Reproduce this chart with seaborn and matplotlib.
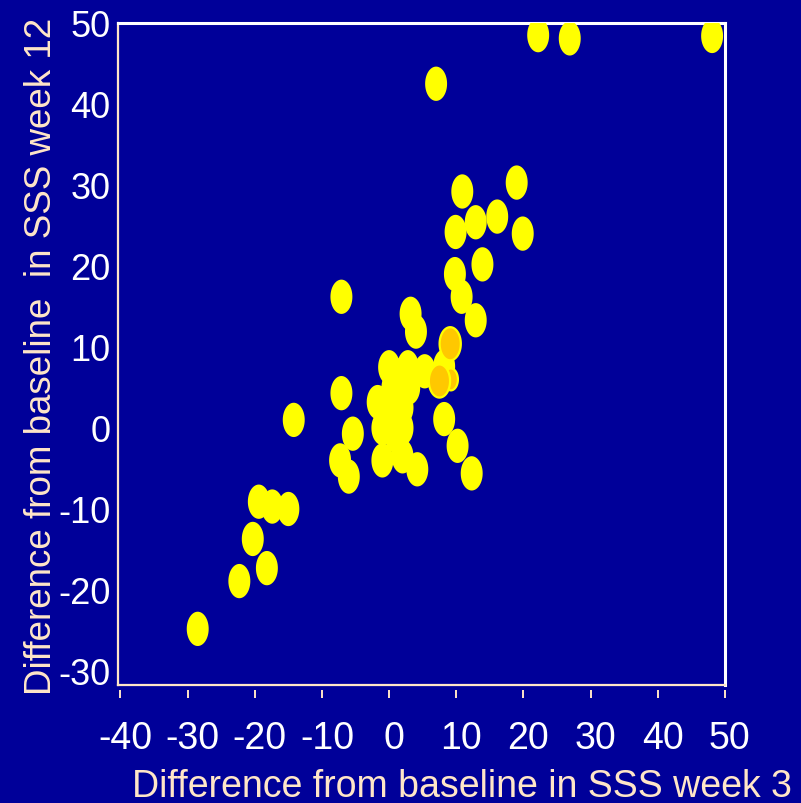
import numpy as np
import pandas as pd
import matplotlib
matplotlib.use("Agg")
import matplotlib.pyplot as plt
import matplotlib.transforms as mtransforms
from matplotlib.path import Path
import seaborn as sns

# Change from baseline in SSS: week 3 (x) vs week 12 (y)
week3 = [48.1, 22.2, 26.9, 7.0, 10.9, 19.0, 9.9, 12.9, 16.1, 19.9,
         13.9, 9.8, 10.8, 12.9, 3.2, 4.0, -7.1, -7.1, -14.2, -5.4,
         -7.3, -6.0, -19.4, -17.4, -15.0, -20.3, -18.2, -22.3, -28.5, 8.2,
         10.2, 12.3, 4.2, 0.0, 1.5, 2.8, 5.3, 0.5, 3.0, -1.7,
         1.0, 2.0, 0.0, -1.0, 2.0, 1.0, -1.0, 2.0, 8.2]
week12 = [48.4, 48.5, 48.1, 42.5, 29.2, 30.3, 24.2, 25.4, 26.1, 24.0,
          20.2, 19.0, 16.2, 13.3, 14.1, 11.9, 16.2, 4.3, 1.0, -0.7,
          -4.0, -6.0, -9.1, -9.7, -10.0, -13.7, -17.3, -18.9, -24.8, 1.1,
          -2.2, -5.6, -5.1, 7.5, 6.5, 7.5, 7.0, 5.0, 5.0, 3.2,
          3.0, 2.5, 1.5, 0.0, 0.0, -1.0, -4.0, -3.5, 7.6]

# Highlighted subjects (drawn in amber)
hl_week3 = [9.2, 9.1, 7.5]
hl_week12 = [6.0, 10.4, 5.8]
hl_size = ["small", "big", "big"]

x_ticks = [-40, -30, -20, -10, 0, 10, 20, 30, 40, 50]
y_ticks = [-30, -20, -10, 0, 10, 20, 30, 40, 50]

BG = "#000099"
BEIGE = "#FFE6C8"
YELLOW = "#FFFF00"
AMBER = "#FFC800"

sns.set_style("white", rc={"axes.facecolor": BG, "figure.facecolor": BG})
plt.rcParams["font.family"] = ["Liberation Sans", "DejaVu Sans"]
plt.rcParams["axes.unicode_minus"] = False

# Upright ellipse marker (taller than wide)
t = np.linspace(0, 2 * np.pi, 64)
ellipse = Path(np.column_stack([0.32 * np.cos(t), 0.5 * np.sin(t)]), closed=True)

fig = plt.figure(figsize=(8.01, 8.04), dpi=100)
ax = fig.add_axes([118 / 801, 1 - 686 / 804, 607 / 801, 662 / 804])

df = pd.DataFrame({"week3": week3, "week12": week12})
sns.scatterplot(data=df, x="week3", y="week12", marker=ellipse, s=610,
                color=YELLOW, edgecolor="none", linewidth=0, ax=ax, zorder=3)

hl = pd.DataFrame({"week3": hl_week3, "week12": hl_week12, "size": hl_size})
sns.scatterplot(data=hl, x="week3", y="week12", size="size",
                sizes={"small": 250, "big": 570}, marker=ellipse,
                color=AMBER, edgecolor=YELLOW, linewidth=1.6,
                legend=False, ax=ax, zorder=4)

ax.set_xlim(-40.37, 50.02)
ax.set_ylim(-31.73, 50)

# Frame
for side in ["left", "bottom"]:
    ax.spines[side].set_color(BEIGE)
    ax.spines[side].set_linewidth(1.6)
for side in ["top", "right"]:
    ax.spines[side].set_color("white")
    ax.spines[side].set_linewidth(2.2)

# y ticks
ax.set_yticks(y_ticks)
ax.tick_params(axis="y", direction="out", length=1.5, width=1.5,
               color="#C8C8D8", labelcolor="white", labelsize=26, pad=4)

# x ticks sit on a detached axis just below the frame
ax.tick_params(axis="x", bottom=False, labelbottom=False)
sec = ax.secondary_xaxis(-0.0076)
sec.set_xticks(x_ticks)
sec.spines["bottom"].set_visible(False)
sec.tick_params(axis="x", direction="out", length=5.8, width=1.4,
                color=BEIGE, labelcolor="white", labelsize=27, pad=16)
shift = mtransforms.ScaledTranslation(5 / 100, 0, fig.dpi_scale_trans)
for lbl in sec.get_xticklabels():
    lbl.set_transform(lbl.get_transform() + shift)

ax.set_xlabel("Difference from baseline in SSS week 3", color=BEIGE,
              fontsize=27, va="center")
ax.xaxis.set_label_coords(0.567, -0.152)
ax.set_ylabel("Difference from baseline  in SSS week 12", color=BEIGE,
              fontsize=26.5, va="center")
ax.yaxis.set_label_coords(-0.126, 0.4985)

fig.savefig("out.png", dpi=100, facecolor=BG)
